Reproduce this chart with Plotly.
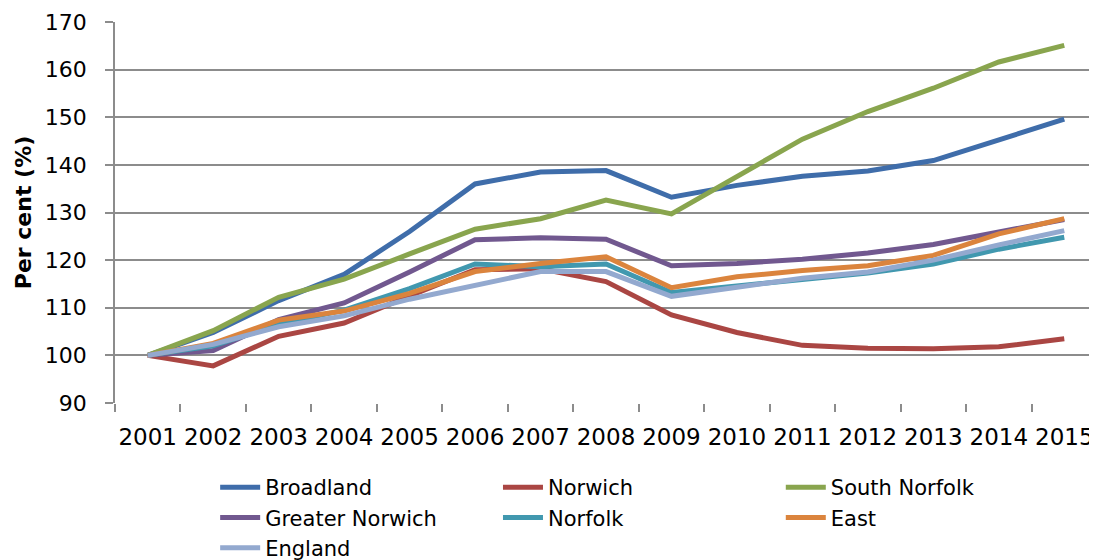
import plotly.graph_objects as go

years = [str(y) for y in range(2001, 2016)]

broadland = [100, 104.8, 111.5, 117, 126, 136, 138.5, 138.8, 133.2, 135.7, 137.6, 138.7, 140.9, 145.2, 149.6]
norwich = [100, 97.8, 104, 106.8, 112.5, 118, 118.2, 115.5, 108.5, 104.8, 102.1, 101.5, 101.4, 101.8, 103.5]
south_norfolk = [100, 105.2, 112.2, 116, 121.3, 126.5, 128.7, 132.6, 129.7, 137.5, 145.4, 151.2, 156.1, 161.6, 165.1]
greater_norwich = [100, 101, 107.5, 111, 117.5, 124.3, 124.7, 124.4, 118.8, 119.3, 120.2, 121.5, 123.3, 125.8, 128.5]
norfolk = [100, 102, 106.5, 109.5, 114, 119.2, 118.6, 119.2, 113.2, 114.5, 116, 117.3, 119.2, 122.3, 124.8]
east = [100, 102.5, 107.4, 109.3, 113, 117.6, 119.3, 120.7, 114.2, 116.5, 117.8, 118.8, 121, 125.5, 128.7]
england = [100, 102.3, 106, 108.3, 111.8, 114.6, 117.6, 117.6, 112.4, 114.3, 116.2, 117.5, 120, 123.2, 126.2]

# (name, values, colour, legend column)
series = [
    ("Broadland", broadland, "#3F6DAA", "legend"),
    ("Norwich", norwich, "#AA4643", "legend2"),
    ("South Norfolk", south_norfolk, "#89A54E", "legend3"),
    ("Greater Norwich", greater_norwich, "#71588F", "legend"),
    ("Norfolk", norfolk, "#4198AF", "legend2"),
    ("East", east, "#DB843D", "legend3"),
    ("England", england, "#93A9CF", "legend"),
]

FONT = "DejaVu Sans"

fig = go.Figure()
for name, vals, col, lg in series:
    fig.add_trace(go.Scatter(x=years, y=vals, name=name, mode="lines", legend=lg,
                             line=dict(color=col, width=5)))

legend_common = dict(orientation="v", xanchor="left", y=-0.168, yanchor="top",
                     font=dict(size=21, family=FONT, color="#000000"),
                     tracegroupgap=0, traceorder="normal", itemwidth=40,
                     bgcolor="rgba(0,0,0,0)")

fig.update_layout(
    width=1089, height=552,
    margin=dict(l=107, r=0, t=14, b=157, autoexpand=False),
    paper_bgcolor="white", plot_bgcolor="white",
    font=dict(family=FONT, color="#000000"),
    showlegend=True,
    legend=dict(x=0.102, **legend_common),
    legend2=dict(x=0.390, **legend_common),
    legend3=dict(x=0.678, **legend_common),
)
fig.update_xaxes(type="category", range=[-0.5, 14.5], showgrid=False, automargin=False,
                 showline=False, ticks="outside", tickson="boundaries", tickangle=0,
                 ticklen=8, tickwidth=1.5, tickcolor="#8C8C8C",
                 tickfont=dict(size=23, family=FONT, color="#000000"),
                 ticklabelstandoff=18)
fig.update_yaxes(range=[90, 170], dtick=10, showgrid=True, gridcolor="#8C8C8C",
                 gridwidth=1.5, showline=True, linecolor="#8C8C8C", linewidth=1.5,
                 automargin=False,
                 ticks="outside", ticklen=8, tickwidth=1.5, tickcolor="#8C8C8C",
                 tickfont=dict(size=22, family=FONT, color="#000000"),
                 ticklabelstandoff=14, zeroline=False,
                 title=dict(text="<b>Per cent (%)</b>", font=dict(size=22, family=FONT, color="#000000"),
                            standoff=7))

fig.write_html("out.html")
